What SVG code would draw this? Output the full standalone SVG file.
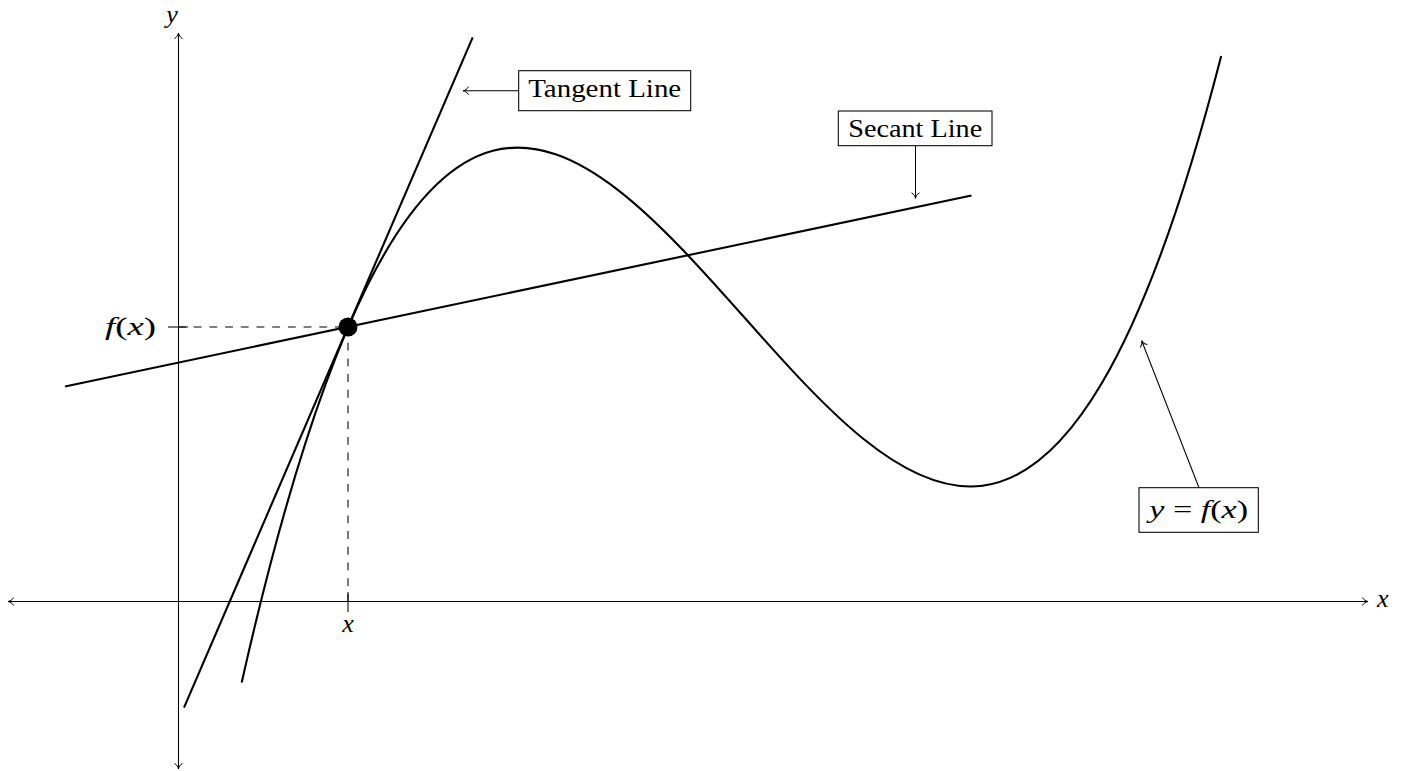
<svg xmlns="http://www.w3.org/2000/svg" width="1413" height="771" viewBox="0 0 1413 771">
<style>
.thin{stroke:#000;stroke-width:1.05;fill:none}
.thick{stroke:#000;stroke-width:2.1;fill:none;stroke-linecap:butt}
.dash{stroke:#000;stroke-width:1.05;fill:none;stroke-dasharray:7.85 7.85}
.box{stroke:#000;stroke-width:1.05;fill:#fff}
.t{font-family:"Liberation Serif","DejaVu Serif",serif;font-size:26px;fill:#000}
.i{font-style:italic}
</style>
<defs>
<marker id="to" markerUnits="userSpaceOnUse" markerWidth="14" markerHeight="14" viewBox="-7 -7 14 14" refX="0" refY="0" orient="auto-start-reverse" overflow="visible">
<path d="M -5.5,-4 C -4.5,-1.5 -1.5,-0.3 0,0 C -1.5,0.3 -4.5,1.5 -5.5,4" stroke="#000" stroke-width="1" fill="none"/>
</marker>
</defs>
<rect width="1413" height="771" fill="#fff"/>
<g id="axes">
<line class="thin" x1="8" y1="601.5" x2="1368" y2="601.5" marker-start="url(#to)" marker-end="url(#to)"/>
<line class="thin" x1="178.5" y1="769" x2="178.5" y2="33" marker-start="url(#to)" marker-end="url(#to)"/>
<line class="thin" x1="168" y1="327" x2="188" y2="327"/>
<line class="thin" x1="348" y1="592" x2="348" y2="612"/>
<text class="t i" x="1377" y="607">x</text>
<text class="t i" x="172" y="23" text-anchor="middle">y</text>
<text class="t i" x="348" y="632" text-anchor="middle">x</text>
<text class="t" x="156" y="335" text-anchor="end" textLength="51" lengthAdjust="spacingAndGlyphs"><tspan class="i">f</tspan>(<tspan class="i">x</tspan>)</text>
</g>
<g id="guides">
<line class="dash" x1="178" y1="327" x2="348" y2="327"/>
<line class="dash" x1="348" y1="327" x2="348" y2="602"/>
</g>
<g id="curve">
<path class="thick" d="M 241.7,682.4 C 568.2,-764.6 894.7,1326.4 1221.2,56"/>
</g>
<g id="tangent">
<line class="thick" x1="184" y1="707.7" x2="472.7" y2="37.3"/>
</g>
<g id="secant">
<line class="thick" x1="65" y1="386.5" x2="971.5" y2="195.5"/>
</g>
<g id="point">
<circle cx="348" cy="327" r="9.5" fill="#000"/>
</g>
<g id="connectors">
<line class="thin" x1="518.7" y1="90.7" x2="463" y2="90.7" marker-end="url(#to)"/>
<line class="thin" x1="915.5" y1="145.7" x2="915.5" y2="198.3" marker-end="url(#to)"/>
<line class="thin" x1="1199" y1="487.7" x2="1141.7" y2="340.7" marker-end="url(#to)"/>
</g>
<g id="label-tangent">
<rect class="box" x="518.7" y="70.7" width="172" height="40"/>
<text class="t" x="604.7" y="97" text-anchor="middle" textLength="153" lengthAdjust="spacingAndGlyphs">Tangent Line</text>
</g>
<g id="label-secant">
<rect class="box" x="838.3" y="111" width="153.7" height="34.7"/>
<text class="t" x="915.2" y="137" text-anchor="middle" textLength="134" lengthAdjust="spacingAndGlyphs">Secant Line</text>
</g>
<g id="label-function">
<rect class="box" x="1139" y="487.7" width="119.3" height="44.6"/>
<text class="t" x="1198.7" y="517.5" text-anchor="middle" textLength="99" lengthAdjust="spacingAndGlyphs"><tspan class="i">y</tspan> = <tspan class="i">f</tspan>(<tspan class="i">x</tspan>)</text>
</g>
</svg>
